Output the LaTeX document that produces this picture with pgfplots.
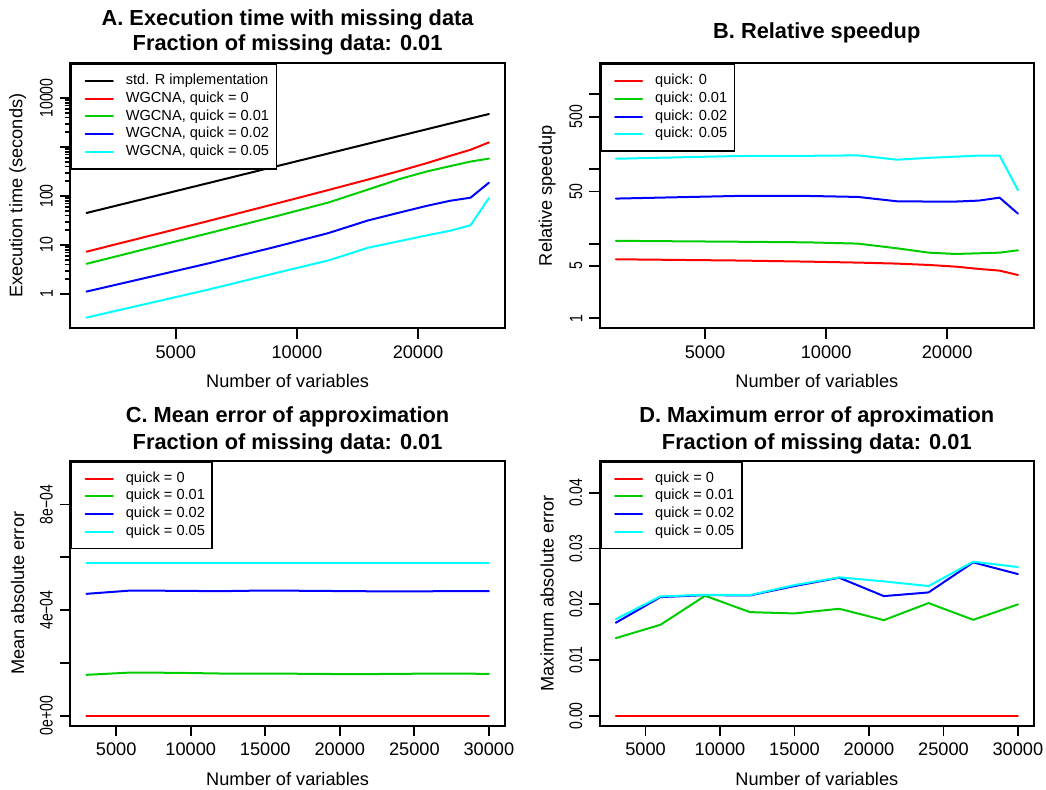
\documentclass[border=0pt]{standalone}
\usepackage{fontspec}
\setmainfont{Liberation Sans}
\usepackage{pgfplots}
\pgfplotsset{compat=1.18}

\definecolor{rred}{RGB}{255,0,0}
\definecolor{rgreen}{RGB}{0,205,0}
\definecolor{rblue}{RGB}{0,0,255}
\definecolor{rcyan}{RGB}{0,255,255}

\pgfplotsset{
  rpanel/.style={
    scale only axis, anchor=south west, height=132.5pt,
    axis line style={line width=0.9pt},
    tick align=outside, tick pos=left,
    major tick length=5.2pt,
    every tick/.style={black, line width=0.9pt},
    minor tick num=0,
    scaled x ticks=false, scaled y ticks=false,
    tick label style={font=\fontsize{9.1}{10}\selectfont},
    label style={font=\fontsize{9.1}{10}\selectfont},
    yticklabel style={rotate=90, xscale=0.77, anchor=south},
    xlabel style={at={(axis description cs:0.5,-0.2)}, anchor=center},
    ylabel style={at={(axis description cs:-0.121,0.5)}, anchor=center},
    xlabel={Number of variables},
    every axis plot/.append style={line width=1pt, line join=round, line cap=round},
    legend cell align=left,
    legend style={at={(0,1)}, anchor=north west, draw=black, line width=0.9pt,
      fill=white, font=\fontsize{7.3}{8}\selectfont,
      inner xsep=3.7pt, inner ysep=5pt, row sep=1.95pt, column sep=6pt,
      nodes={inner sep=0pt, text height=5.3pt, text depth=1.6pt}},
    legend image code/.code={\path (0pt,0pt); \draw[##1] (3pt,0pt) -- (16.6pt,0pt);},
  }
}

\begin{document}
\begin{tikzpicture}
\path[use as bounding box] (0,0) rectangle (523pt,394.5pt);

% A. execution time
\begin{axis}[rpanel, at={(35.15pt,230.35pt)}, width=217.35pt,
  xmode=log, ymode=log,
  xmin=2735, xmax=32890, ymin=0.1995, ymax=51050,
  xtick={5000,10000,20000}, xticklabels={5000,10000,20000},
  ytick={1,10,100,1000,10000}, yticklabels={1,10,100,,10000},
  ylabel={Execution time (seconds)}]
\addplot[black] coordinates {(3000,45) (6000,182) (9000,414) (12000,741) (15000,1165) (18000,1683) (21000,2298) (24000,3010) (27000,3814) (30000,4710)};
\addplot[rred] coordinates {(3000,7.3) (6000,30.6) (9000,72) (12000,133) (15000,216) (18000,325) (21000,467) (24000,657) (27000,877) (30000,1239)};
\addplot[rgreen] coordinates {(3000,4.13) (6000,17.2) (9000,39.8) (12000,74) (15000,135) (18000,222) (21000,316) (24000,406) (27000,504) (30000,579)};
\addplot[rblue] coordinates {(3000,1.12) (6000,4.18) (9000,9.5) (12000,17.6) (15000,31.6) (18000,46) (21000,62.8) (24000,79.8) (27000,92.3) (30000,187)};
\addplot[rcyan] coordinates {(3000,0.33) (6000,1.22) (9000,2.76) (12000,4.87) (15000,8.76) (18000,12.0) (21000,15.7) (24000,19.5) (27000,25.3) (30000,90.6)};
\legend{std. R implementation, {WGCNA, quick = 0}, {WGCNA, quick = 0.01}, {WGCNA, quick = 0.02}, {WGCNA, quick = 0.05}}
\end{axis}

% B. relative speedup
\begin{axis}[rpanel, at={(299.85pt,230.35pt)}, width=217.15pt,
  xmode=log, ymode=log,
  xmin=2735, xmax=32890, ymin=0.7345, ymax=2600,
  xtick={5000,10000,20000}, xticklabels={5000,10000,20000},
  ytick={1,5,10,50,100,500,1000}, yticklabels={1,5,,50,,500,},
  ylabel={Relative speedup}]
\addplot[rred] coordinates {(3000,6.17) (6000,5.94) (9000,5.74) (12000,5.57) (15000,5.40) (18000,5.18) (21000,4.92) (24000,4.58) (27000,4.35) (30000,3.80)};
\addplot[rgreen] coordinates {(3000,10.9) (6000,10.6) (9000,10.4) (12000,10.0) (15000,8.66) (18000,7.57) (21000,7.27) (24000,7.42) (27000,7.57) (30000,8.14)};
\addplot[rblue] coordinates {(3000,40.1) (6000,43.5) (9000,43.5) (12000,42.2) (15000,36.9) (18000,36.6) (21000,36.6) (24000,37.7) (27000,41.3) (30000,25.2)};
\addplot[rcyan] coordinates {(3000,137) (6000,149) (9000,150) (12000,152) (15000,133) (18000,141) (21000,146) (24000,151) (27000,151) (30000,52)};
\legend{quick: 0, quick: 0.01, quick: 0.02, quick: 0.05}
\end{axis}

% C. mean error
\begin{axis}[rpanel, at={(35.15pt,31.65pt)}, width=217.35pt,
  xmin=1920, xmax=31080, ymin=-0.38e-4, ymax=9.66e-4,
  xtick={5000,10000,15000,20000,25000,30000},
  xticklabels={5000,10000,15000,20000,25000,30000},
  ytick={0,2e-4,4e-4,6e-4,8e-4}, yticklabels={0e+00,,4e−04,,8e−04},
  ylabel={Mean absolute error}]
\addplot[rred] coordinates {(3000,0) (6000,0) (9000,0) (12000,0) (15000,0) (18000,0) (21000,0) (24000,0) (27000,0) (30000,0)};
\addplot[rgreen] coordinates {(3000,1.547e-4) (6000,1.635e-4) (9000,1.623e-4) (12000,1.597e-4) (15000,1.597e-4) (18000,1.585e-4) (21000,1.572e-4) (24000,1.585e-4) (27000,1.597e-4) (30000,1.585e-4)};
\addplot[rblue] coordinates {(3000,4.616e-4) (6000,4.742e-4) (9000,4.730e-4) (12000,4.717e-4) (15000,4.742e-4) (18000,4.730e-4) (21000,4.717e-4) (24000,4.705e-4) (27000,4.717e-4) (30000,4.717e-4)};
\addplot[rcyan] coordinates {(3000,5.786e-4) (6000,5.786e-4) (9000,5.786e-4) (12000,5.786e-4) (15000,5.786e-4) (18000,5.786e-4) (21000,5.786e-4) (24000,5.786e-4) (27000,5.786e-4) (30000,5.786e-4)};
\legend{quick = 0, quick = 0.01, quick = 0.02, quick = 0.05}
\end{axis}

% D. maximum error
\begin{axis}[rpanel, at={(299.85pt,31.65pt)}, width=217.15pt,
  xmin=1920, xmax=31080, ymin=-0.00176, ymax=0.04576,
  xtick={5000,10000,15000,20000,25000,30000},
  xticklabels={5000,10000,15000,20000,25000,30000},
  ytick={0,0.01,0.02,0.03,0.04}, yticklabels={0.00,0.01,0.02,0.03,0.04},
  ylabel={Maximum absolute error}]
\addplot[rred] coordinates {(3000,0) (6000,0) (9000,0) (12000,0) (15000,0) (18000,0) (21000,0) (24000,0) (27000,0) (30000,0)};
\addplot[rgreen] coordinates {(3000,0.01394) (6000,0.01634) (9000,0.02154) (12000,0.01861) (15000,0.01837) (18000,0.01921) (21000,0.01717) (24000,0.02023) (27000,0.01723) (30000,0.01999)};
\addplot[rblue] coordinates {(3000,0.01670) (6000,0.02130) (9000,0.02166) (12000,0.02160) (15000,0.02328) (18000,0.02478) (21000,0.02148) (24000,0.02214) (27000,0.02753) (30000,0.02543)};
\addplot[rcyan] coordinates {(3000,0.01735) (6000,0.02142) (9000,0.02172) (12000,0.02166) (15000,0.02346) (18000,0.02484) (21000,0.02412) (24000,0.02328) (27000,0.02765) (30000,0.02669)};
\legend{quick = 0, quick = 0.01, quick = 0.02, quick = 0.05}
\end{axis}

\begin{scope}[every node/.style={anchor=base, font=\bfseries\fontsize{10.9}{12}\selectfont, inner sep=0pt}]
\node at (143.8pt,381.5pt) {A. Execution time with missing data};
\node at (143.8pt,369.15pt) {Fraction of missing data: 0.01};
\node at (408.4pt,375.35pt) {B. Relative speedup};
\node at (143.8pt,183.35pt) {C. Mean error of approximation};
\node at (143.8pt,170pt) {Fraction of missing data: 0.01};
\node at (408.4pt,183.35pt) {D. Maximum error of aproximation};
\node at (408.4pt,170pt) {Fraction of missing data: 0.01};
\end{scope}
\end{tikzpicture}
\end{document}
